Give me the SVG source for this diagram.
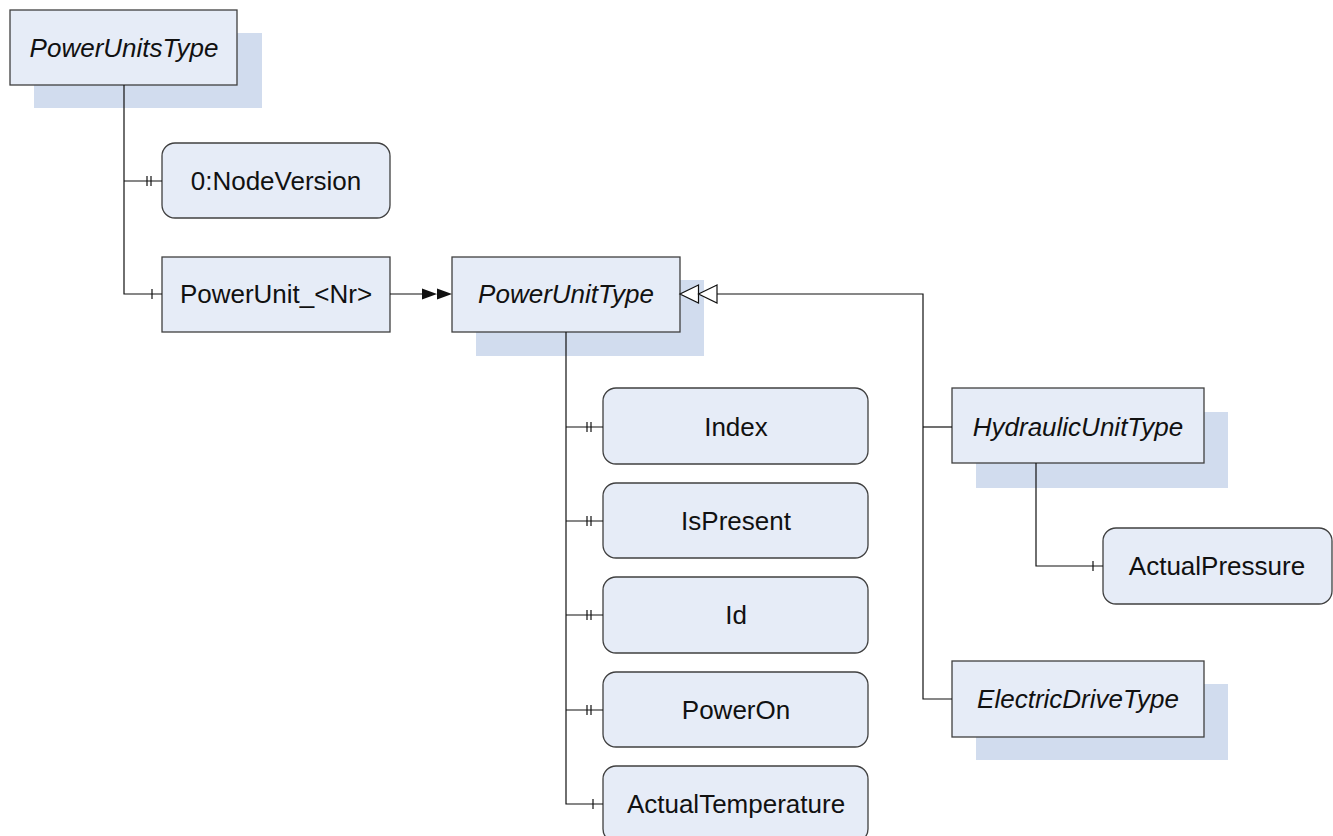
<svg xmlns="http://www.w3.org/2000/svg" width="1333" height="836" viewBox="0 0 1333 836">
<style>
.shadow{fill:#d1dcee;stroke:none}
.box{fill:#e6ecf7;stroke:#404040;stroke-width:1.3}
.t{font-family:"Liberation Sans",Arial,sans-serif;font-size:26px;fill:#111;text-anchor:middle}
.i{font-style:italic}
.c{fill:none;stroke:#111;stroke-width:1.2}
.tick{stroke:#111;stroke-width:1.2}
.fill{fill:#111;stroke:none}
.hollow{fill:#fff;stroke:#111;stroke-width:1.2}
</style>

<g id="PowerUnitsType">
<rect class="shadow" x="34" y="33" width="228" height="75"/>
<rect class="box" x="10" y="10" width="227" height="75"/>
<text class="t i" x="124" y="57">PowerUnitsType</text>
</g>

<g id="NodeVersion">
<rect class="box" x="162" y="143" width="228" height="75" rx="13"/>
<text class="t" x="276" y="190">0:NodeVersion</text>
</g>

<g id="PowerUnitNr">
<rect class="box" x="162" y="257" width="228" height="75"/>
<text class="t" x="276" y="303">PowerUnit_&lt;Nr&gt;</text>
</g>

<g id="PowerUnitType">
<rect class="shadow" x="476" y="280" width="228" height="76"/>
<rect class="box" x="452" y="257" width="228" height="75"/>
<text class="t i" x="566" y="303">PowerUnitType</text>
</g>

<g id="Index">
<rect class="box" x="603" y="388" width="265" height="76" rx="13"/>
<text class="t" x="736" y="436">Index</text>
</g>

<g id="IsPresent">
<rect class="box" x="603" y="483" width="265" height="75" rx="13"/>
<text class="t" x="736" y="530">IsPresent</text>
</g>

<g id="Id">
<rect class="box" x="603" y="577" width="265" height="76" rx="13"/>
<text class="t" x="736" y="624">Id</text>
</g>

<g id="PowerOn">
<rect class="box" x="603" y="672" width="265" height="75" rx="13"/>
<text class="t" x="736" y="719">PowerOn</text>
</g>

<g id="ActualTemperature">
<rect class="box" x="603" y="766" width="265" height="76" rx="13"/>
<text class="t" x="736" y="813">ActualTemperature</text>
</g>

<g id="HydraulicUnitType">
<rect class="shadow" x="976" y="412" width="252" height="76"/>
<rect class="box" x="952" y="388" width="252" height="75"/>
<text class="t i" x="1078" y="436">HydraulicUnitType</text>
</g>

<g id="ActualPressure">
<rect class="box" x="1103" y="528" width="229" height="76" rx="13"/>
<text class="t" x="1217" y="575">ActualPressure</text>
</g>

<g id="ElectricDriveType">
<rect class="shadow" x="976" y="684" width="252" height="76"/>
<rect class="box" x="952" y="661" width="252" height="76"/>
<text class="t i" x="1078" y="708">ElectricDriveType</text>
</g>

<g id="connectors">
<path class="c" d="M124,85 V294 H162"/>
<path class="c" d="M124,181 H162"/>
<line class="tick" x1="147" y1="176" x2="147" y2="186"/>
<line class="tick" x1="151" y1="176" x2="151" y2="186"/>
<line class="tick" x1="152" y1="289" x2="152" y2="299"/>
<path class="c" d="M390,294 H423"/>
<path class="fill" d="M422,288.5 L437,294 L422,299.5 Z M437,288.5 L452,294 L437,299.5 Z"/>
<path class="c" d="M952,699 H923 V294 H717"/>
<path class="hollow" d="M717,285 L698.5,294 L717,303 Z M698.5,285 L680,294 L698.5,303 Z"/>
<path class="c" d="M923,427 H952"/>
<path class="c" d="M566,332 V804 H603"/>
<path class="c" d="M566,427 H603"/>
<line class="tick" x1="587" y1="422" x2="587" y2="432"/>
<line class="tick" x1="591" y1="422" x2="591" y2="432"/>
<path class="c" d="M566,521 H603"/>
<line class="tick" x1="587" y1="516" x2="587" y2="526"/>
<line class="tick" x1="591" y1="516" x2="591" y2="526"/>
<path class="c" d="M566,615 H603"/>
<line class="tick" x1="587" y1="610" x2="587" y2="620"/>
<line class="tick" x1="591" y1="610" x2="591" y2="620"/>
<path class="c" d="M566,710 H603"/>
<line class="tick" x1="587" y1="705" x2="587" y2="715"/>
<line class="tick" x1="591" y1="705" x2="591" y2="715"/>
<line class="tick" x1="593" y1="799" x2="593" y2="809"/>
<path class="c" d="M1036,463 V566 H1103"/>
<line class="tick" x1="1093" y1="561" x2="1093" y2="571"/>
</g>
</svg>
